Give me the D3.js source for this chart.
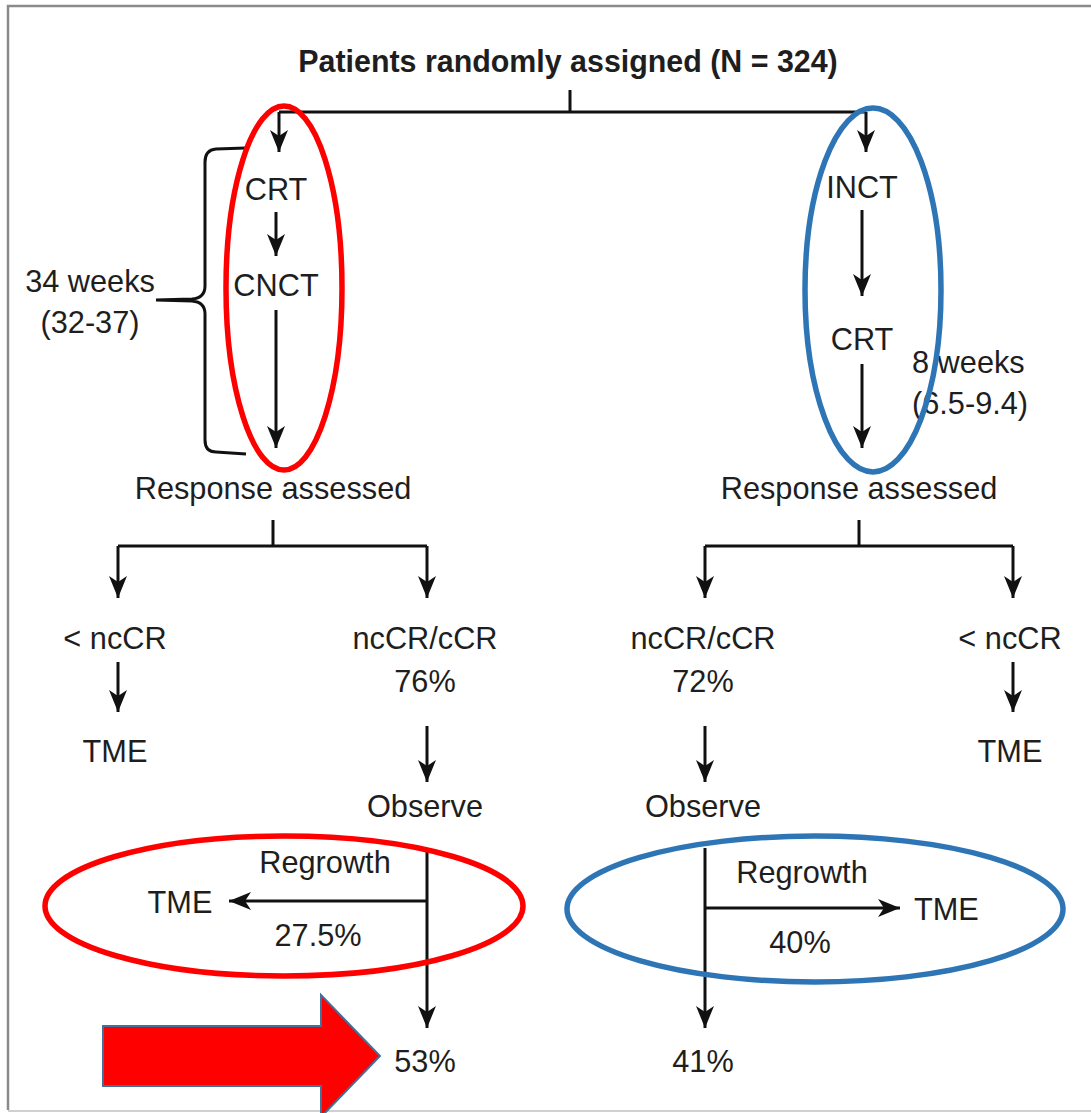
<!DOCTYPE html>
<html>
<head>
<meta charset="utf-8">
<script src="https://cdn.jsdelivr.net/npm/d3@7"></script>
<style>
  html, body { margin: 0; padding: 0; background: #fff; }
  svg text { font-family: "Liberation Sans Narrow", "Liberation Sans", Arial, sans-serif; fill: #1e1e1e; }
</style>
</head>
<body>
<svg id="chart" width="1091" height="1113"></svg>
<script>
// data
const title = 'Patients randomly assigned (N = 324)';
const armSteps = [['CRT', 'CNCT'], ['INCT', 'CRT']];
const armDurations = ['34 weeks', '8 weeks'];
const armRanges = ['(32-37)', '(6.5-9.4)'];
const responseRates = [76, 72];      // ncCR/cCR %
const regrowthRates = [27.5, 40];    // regrowth %
const organPreserved = [53, 41];     // final %

const W = 1091, H = 1113;
const svg = d3.select('#chart').attr('viewBox', `0 0 ${W} ${H}`);

const defs = svg.append('defs');
defs.append('marker')
  .attr('id', 'head')
  .attr('viewBox', '-24 -10 26 20')
  .attr('markerUnits', 'userSpaceOnUse')
  .attr('markerWidth', 26).attr('markerHeight', 20)
  .attr('refX', 0).attr('refY', 0)
  .attr('orient', 'auto')
  .append('path')
  .attr('d', 'M0,0 L-22,-9 L-16,0 L-22,9 Z')
  .attr('fill', '#111');

// frame
svg.append('path')
  .attr('d', `M8,${H - 3} L8,6 L${W + 2},6`)
  .attr('fill', 'none').attr('stroke', '#8a8a8a').attr('stroke-width', 2.5);
svg.append('line')
  .attr('x1', 8).attr('x2', W).attr('y1', H - 2).attr('y2', H - 2)
  .attr('stroke', '#d0d0d0').attr('stroke-width', 2);

const line = (pts, arrow) => svg.append('path')
  .attr('d', d3.line()(pts))
  .attr('fill', 'none').attr('stroke', '#111').attr('stroke-width', 3)
  .attr('marker-end', arrow ? 'url(#head)' : null);

// slightly condensed text, like the journal's typeface
const label = (x, y, txt, opt = {}) => svg.append('text')
  .attr('transform', `translate(${x},${y}) scale(${opt.sx || 0.96},1)`)
  .attr('text-anchor', opt.anchor || 'middle')
  .attr('font-size', opt.size || 32)
  .attr('font-weight', opt.bold ? 'bold' : null)
  .text(txt);

// title + split
label(568, 72, title, { bold: true, size: 31, sx: 0.98 });
line([[570, 90], [570, 112]]);
line([[279, 112], [866, 112]]);

// column layout for the two arms
const armX = [276, 862];
const branchX = [[118, 427], [1013, 705]]; // [< ncCR, ncCR/cCR]
const stepY = [[200, 296], [198, 350]];

armSteps.forEach((steps, i) => {
  const x = armX[i];
  const topX = i === 0 ? 279 : 866;
  line([[topX, 112], [topX, 152]], true);
  label(x, stepY[i][0], steps[0]);
  line([[x, stepY[i][0] + 12], [x, i === 0 ? 256 : 296]], true);
  label(x, stepY[i][1], steps[1]);
  line([[x, stepY[i][1] + 14], [x, 448]], true);

  // response assessed
  label(x - 3, 499, 'Response assessed');
  line([[x - 3, 520], [x - 3, 546]]);
  const [bNo, bYes] = branchX[i];
  line([[d3.min(branchX[i]), 546], [d3.max(branchX[i]), 546]]);
  line([[bNo, 546], [bNo, 598]], true);
  line([[bYes, 546], [bYes, 598]], true);

  // non-responders
  label(bNo - 3, 649, '< ncCR');
  line([[bNo, 662], [bNo, 712]], true);
  label(bNo - 3, 762, 'TME');

  // responders
  label(bYes - 2, 649, 'ncCR/cCR');
  label(bYes - 2, 692, `${responseRates[i]}%`);
  line([[bYes, 726], [bYes, 782]], true);
  label(bYes - 2, 817, 'Observe');
  line([[bYes, 848], [bYes, 1028]], true);
  label(bYes - 2, 1072, `${organPreserved[i]}%`);
});

// regrowth branches
// left arm: arrow pointing left
line([[427, 901], [229, 901]], true);
label(180, 913, 'TME');
label(325, 873, 'Regrowth');
label(318, 946, `${regrowthRates[0]}%`);
// right arm: arrow pointing right
line([[705, 908], [900, 908]], true);
label(914, 920, 'TME', { anchor: 'start' });
label(802, 883, 'Regrowth');
label(800, 953, `${regrowthRates[1]}%`);

// duration annotations
svg.append('path')
  .attr('d', 'M246,148 L216,149 Q205,150 205,162 L205,286 Q205,298 192,299 L156,300 L192,301 Q205,302 205,314 L205,440 Q205,452 216,452 L246,454')
  .attr('fill', 'none').attr('stroke', '#111').attr('stroke-width', 3);
label(90, 292, armDurations[0]);
label(90, 333, armRanges[0]);
label(912, 373, armDurations[1], { anchor: 'start' });
label(912, 414, armRanges[1], { anchor: 'start' });

// highlight ellipses
const ell = (cx, cy, rx, ry, c) => svg.append('ellipse')
  .attr('cx', cx).attr('cy', cy).attr('rx', rx).attr('ry', ry)
  .attr('fill', 'none').attr('stroke', c).attr('stroke-width', 5.5);
ell(284, 288, 58, 182, '#ff0000');
ell(873, 290, 68, 182, '#2e75b6');
ell(284, 906, 239, 70, '#ff0000');
ell(815, 909, 248, 73, '#2e75b6');

// big block arrow pointing at 53%
svg.append('path')
  .attr('d', 'M103,1026 L321,1026 L321,995 L380,1056 L321,1117 L321,1086 L103,1086 Z')
  .attr('fill', '#ff0000').attr('stroke', '#41719c').attr('stroke-width', 2);
</script>
</body>
</html>
